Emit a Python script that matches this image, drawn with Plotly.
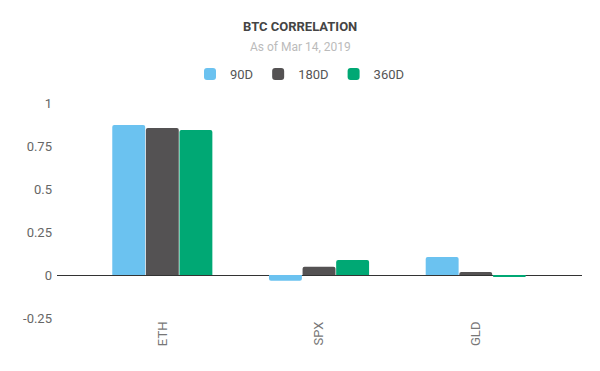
import plotly.graph_objects as go

categories = ["ETH", "SPX", "GLD"]
series_names = ["90D", "180D", "360D"]
values_90d = [0.872, -0.033, 0.105]
values_180d = [0.855, 0.048, 0.017]
values_360d = [0.843, 0.087, -0.010]
colors = ["#6BC2F0", "#545253", "#00A874"]
y_tick_vals = [-0.25, 0, 0.25, 0.5, 0.75, 1]
y_tick_text = ["-0.25", "0", "0.25", "0.5", "0.75", "1"]

fig = go.Figure()
for name, vals, col in zip(series_names, [values_90d, values_180d, values_360d], colors):
    fig.add_trace(go.Bar(x=categories, y=vals, name=name,
                         marker=dict(color=col, line=dict(width=0), cornerradius=2)))

font = "Roboto, 'Noto Sans', sans-serif"
left, right, top, bottom = 57, 18, 103, 53
plot_h = 371 - top - bottom
plot_w = 600 - left - right
def py(ypix):
    return (371 - bottom - ypix) / plot_h
def px(xpix):
    return (xpix - left) / plot_w

fig.update_layout(
    width=600, height=371,
    paper_bgcolor="white", plot_bgcolor="white",
    margin=dict(l=left, r=right, t=top, b=bottom, autoexpand=False),
    barmode="group", bargap=0.357, bargroupgap=0.02,
    font=dict(family=font, size=13, color="#555"),
    showlegend=True,
    legend=dict(orientation="h", x=px(300), xanchor="center", y=py(74), yanchor="middle",
                font=dict(size=13, color="#555"), itemwidth=30, itemclick=False,
                tracegroupgap=0),
    xaxis=dict(range=[-0.672, 2.678], showgrid=False, showline=False, ticks="",
               tickangle=-90, tickfont=dict(size=13, color="#777"), fixedrange=True),
    yaxis=dict(range=[-0.25, 1], showgrid=False, zeroline=True, zerolinecolor="#333",
               zerolinewidth=1, tickvals=y_tick_vals, ticktext=y_tick_text,
               tickfont=dict(size=13, color="#666"), ticks="", showline=False,
               ticklabelstandoff=4, fixedrange=True),
    annotations=[
        dict(text="<b>BTC CORRELATION</b>", x=px(300), xref="paper", y=py(27), yref="paper",
             xanchor="center", yanchor="middle", showarrow=False,
             font=dict(size=13, color="#444")),
        dict(text="As of Mar 14, 2019", x=px(300), xref="paper", y=py(47), yref="paper",
             xanchor="center", yanchor="middle", showarrow=False,
             font=dict(size=12, color="#bbb")),
    ],
)
fig.write_html("out.html", config={"displayModeBar": False},
               post_script="document.body.style.margin='0';")
